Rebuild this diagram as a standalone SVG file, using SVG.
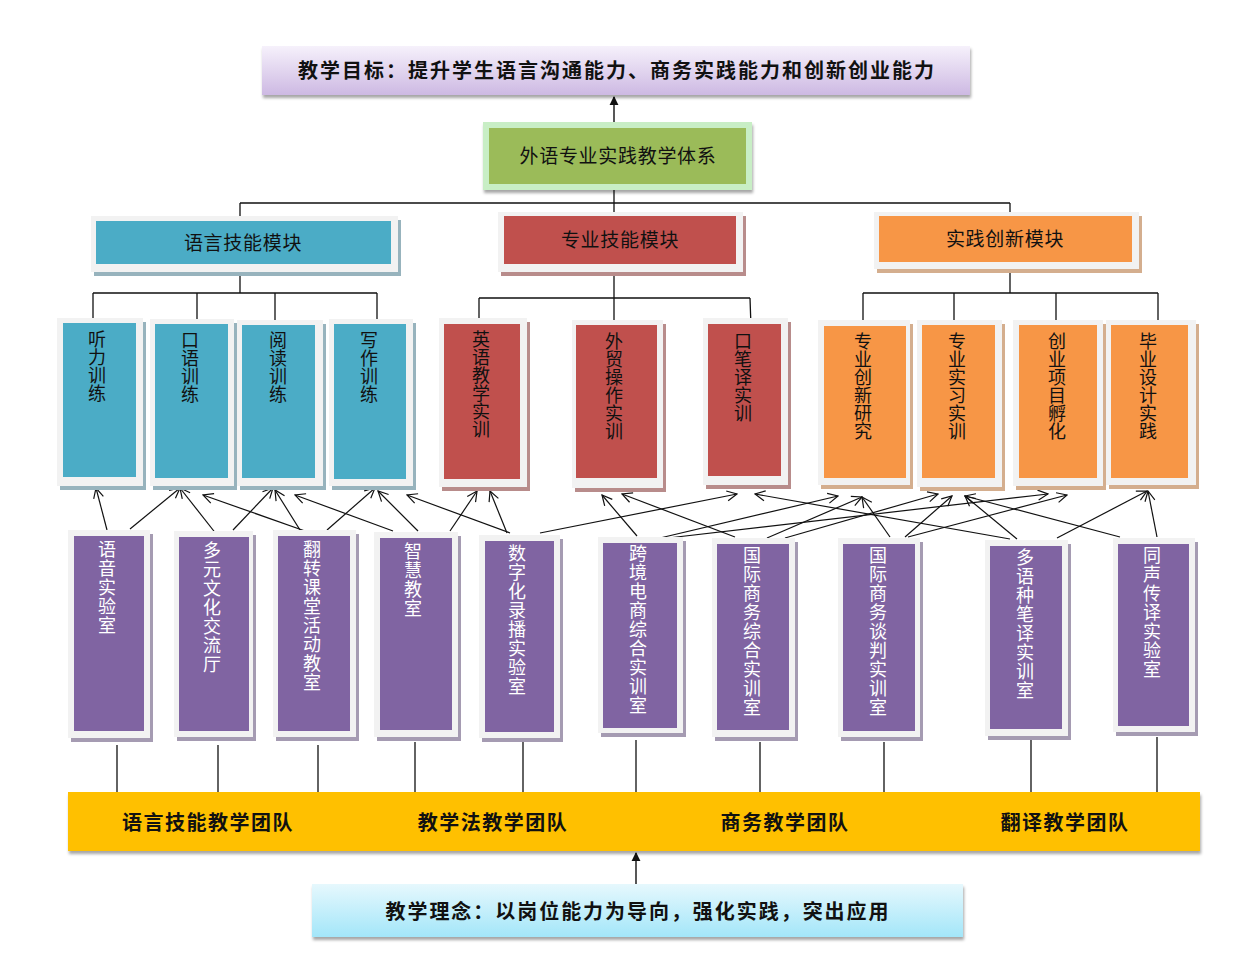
<svg xmlns="http://www.w3.org/2000/svg" width="1239" height="961" viewBox="0 0 1239 961">
<style>
.frame{fill:#F2F2F2}
.t{fill:#4BACC6}.r{fill:#C0504D}.o{fill:#F79646}.p{fill:#8064A2}
.st{fill:#97B3BD}.sr{fill:#B88C8B}.so{fill:#D4AE8E}.sp{fill:#A59BB2}
.ln{stroke:#111;stroke-width:1.3;fill:none}
.ar{stroke:#111;stroke-width:1.2;fill:none;marker-end:url(#open)}
.txt{font-family:"Noto Sans CJK SC","Noto Sans",sans-serif;fill:#111}
.mod{font-size:19px;letter-spacing:0.7px;text-anchor:middle}
.vt{font-size:18px;writing-mode:vertical-rl}
.vw{font-size:18px;writing-mode:vertical-rl;letter-spacing:1px;fill:#fff}
.bold{font-weight:bold;font-size:20px;text-anchor:middle}
</style>
<defs>
<marker id="open" viewBox="0 0 12 12" refX="11" refY="6" markerWidth="12" markerHeight="12" markerUnits="userSpaceOnUse" orient="auto">
<path d="M1,1 L11,6 L1,11" fill="none" stroke="#111" stroke-width="1.2"/>
</marker>
<marker id="solid" viewBox="0 0 10 10" refX="9" refY="5" markerWidth="9" markerHeight="11" markerUnits="userSpaceOnUse" orient="auto">
<path d="M0,0 L10,5 L0,10 Z" fill="#111"/>
</marker>
<linearGradient id="gTop" x1="0" y1="0" x2="0" y2="1">
<stop offset="0" stop-color="#F6F1FB"/><stop offset="1" stop-color="#CDB9E3"/>
</linearGradient>
<linearGradient id="gBot" x1="0" y1="0" x2="0" y2="1">
<stop offset="0" stop-color="#E6F8FD"/><stop offset="1" stop-color="#A3E6F9"/>
</linearGradient>
<filter id="sh" x="-5%" y="-20%" width="110%" height="150%">
<feDropShadow dx="1" dy="3" stdDeviation="1.5" flood-color="#000" flood-opacity="0.35"/>
</filter>
</defs>

<rect width="1239" height="961" fill="#fff"/>

<g id="connectors">
<!-- top tree -->
<path class="ln" d="M614,190 V203 M240,203 H1010 M240,203 V216 M614,203 V212 M1010,203 V212"/>
<path class="ln" d="M240,272 V293 M93,293 H377 M93,293 V320 M197,293 V322 M275,293 V320 M377,293 V321"/>
<path class="ln" d="M614,272 V298 M479,298 H750 M479,298 V322 M614,298 V325 M750,298 L751,327"/>
<path class="ln" d="M1010,269 V293 M863,293 H1158 M863,293 V322 M954,293 V322 M1056,293 V322 M1158,293 V322"/>
<!-- main arrows -->
<line x1="614" y1="122" x2="614" y2="97" stroke="#111" stroke-width="1.4" marker-end="url(#solid)"/>
<line x1="636" y1="884" x2="636" y2="853" stroke="#111" stroke-width="1.4" marker-end="url(#solid)"/>
<!-- labs to team bar -->
<path class="ln" stroke-width="1" d="M117,745 V792 M218,745 V792 M318,745 V792 M415,742 V792 M523,742 V792 M636,740 V792 M760,742 V792 M884,742 V792 M1031,740 V792 M1157,737 V792"/>
<!-- labs to skills -->
<line class="ar" x1="107" y1="530" x2="96" y2="488"/>
<line class="ar" x1="130" y1="529" x2="180" y2="488"/>
<line class="ar" x1="217" y1="535" x2="180" y2="488"/>
<line class="ar" x1="233" y1="530" x2="273" y2="488"/>
<line class="ar" x1="305" y1="531" x2="203" y2="495"/>
<line class="ar" x1="300" y1="530" x2="275" y2="490"/>
<line class="ar" x1="327" y1="530" x2="375" y2="488"/>
<line class="ar" x1="393" y1="531" x2="295" y2="495"/>
<line class="ar" x1="418" y1="531" x2="378" y2="491"/>
<line class="ar" x1="450" y1="531" x2="477" y2="491"/>
<line class="ar" x1="510" y1="533" x2="407" y2="495"/>
<line class="ar" x1="507" y1="533" x2="490" y2="491"/>
<line class="ar" x1="540" y1="533" x2="737" y2="494"/>
<line class="ar" x1="637" y1="536" x2="602" y2="495"/>
<line class="ar" x1="735" y1="537" x2="622" y2="494"/>
<line class="ar" x1="660" y1="538" x2="838" y2="496"/>
<line class="ar" x1="668" y1="538" x2="1048" y2="494"/>
<line class="ar" x1="767" y1="538" x2="862" y2="497"/>
<line class="ar" x1="785" y1="538" x2="938" y2="494"/>
<line class="ar" x1="890" y1="537" x2="862" y2="497"/>
<line class="ar" x1="905" y1="537" x2="952" y2="496"/>
<line class="ar" x1="908" y1="537" x2="1067" y2="495"/>
<line class="ar" x1="1017" y1="539" x2="965" y2="496"/>
<line class="ar" x1="1010" y1="539" x2="755" y2="494"/>
<line class="ar" x1="1057" y1="538" x2="1147" y2="491"/>
<line class="ar" x1="1120" y1="537" x2="965" y2="496"/>
<line class="ar" x1="1157" y1="537" x2="1148" y2="491"/>
</g>

<g id="goal">
<rect x="262" y="46" width="708" height="49" fill="url(#gTop)" filter="url(#sh)"/>
<text class="txt bold" x="616" y="78" textLength="636" lengthAdjust="spacing">教学目标：提升学生语言沟通能力、商务实践能力和创新创业能力</text>
</g>

<g id="system">
<rect x="483" y="122" width="269" height="68" fill="#C8EEC5" filter="url(#sh)"/>
<rect x="489" y="128" width="257" height="56" fill="#9BBB59"/>
<text class="txt mod" x="618" y="163" letter-spacing="1">外语专业实践教学体系</text>
</g>

<g id="mod-lang">
<rect x="94" y="220" width="307" height="56" class="st"/>
<rect x="91" y="216" width="307" height="56" class="frame"/>
<rect x="96" y="221" width="295" height="43" class="t"/>
<text class="txt mod" x="243" y="250">语言技能模块</text>
</g>
<g id="mod-prof">
<rect x="501" y="216" width="245" height="60" class="sr"/>
<rect x="498" y="212" width="245" height="60" class="frame"/>
<rect x="504" y="216" width="232" height="48" class="r"/>
<text class="txt mod" x="620" y="247">专业技能模块</text>
</g>
<g id="mod-prac">
<rect x="877" y="216" width="265" height="57" class="so"/>
<rect x="874" y="212" width="265" height="57" class="frame"/>
<rect x="879" y="216" width="253" height="46" class="o"/>
<text class="txt mod" x="1005" y="246">实践创新模块</text>
</g>

<!-- skill boxes -->
<g id="s-listen"><rect x="60" y="322" width="86" height="168" class="st"/><rect x="57" y="318" width="86" height="168" class="frame"/><rect x="63" y="323" width="73" height="154" class="t"/><text class="txt vt" x="97" y="330">听力训练</text></g>
<g id="s-speak"><rect x="153" y="323" width="84" height="167" class="st"/><rect x="150" y="319" width="84" height="167" class="frame"/><rect x="155" y="324" width="73" height="154" class="t"/><text class="txt vt" x="190" y="331">口语训练</text></g>
<g id="s-read"><rect x="240" y="324" width="86" height="166" class="st"/><rect x="237" y="320" width="86" height="166" class="frame"/><rect x="242" y="325" width="73" height="153" class="t"/><text class="txt vt" x="278" y="331">阅读训练</text></g>
<g id="s-write"><rect x="332" y="323" width="84" height="167" class="st"/><rect x="329" y="319" width="84" height="167" class="frame"/><rect x="334" y="324" width="72" height="155" class="t"/><text class="txt vt" x="369" y="331">写作训练</text></g>
<g id="s-eng"><rect x="442" y="322" width="88" height="169" class="sr"/><rect x="439" y="318" width="88" height="169" class="frame"/><rect x="444" y="324" width="76" height="155" class="r"/><text class="txt vt" x="481" y="330">英语教学实训</text></g>
<g id="s-trade"><rect x="575" y="324" width="91" height="168" class="sr"/><rect x="572" y="320" width="91" height="168" class="frame"/><rect x="576" y="325" width="81" height="153" class="r"/><text class="txt vt" x="614" y="332">外贸操作实训</text></g>
<g id="s-interp"><rect x="706" y="322" width="85" height="167" class="sr"/><rect x="703" y="318" width="85" height="167" class="frame"/><rect x="708" y="324" width="73" height="152" class="r"/><text class="txt vt" x="743" y="332">口笔译实训</text></g>
<g id="s-research"><rect x="821" y="324" width="92" height="165" class="so"/><rect x="818" y="320" width="92" height="165" class="frame"/><rect x="824" y="326" width="82" height="152" class="o"/><text class="txt vt" x="863" y="332">专业创新研究</text></g>
<g id="s-intern"><rect x="920" y="324" width="85" height="167" class="so"/><rect x="917" y="320" width="85" height="167" class="frame"/><rect x="922" y="325" width="73" height="153" class="o"/><text class="txt vt" x="957" y="332">专业实习实训</text></g>
<g id="s-venture"><rect x="1016" y="324" width="90" height="166" class="so"/><rect x="1013" y="320" width="90" height="166" class="frame"/><rect x="1019" y="325" width="78" height="153" class="o"/><text class="txt vt" x="1057" y="332">创业项目孵化</text></g>
<g id="s-thesis"><rect x="1109" y="324" width="90" height="165" class="so"/><rect x="1106" y="320" width="90" height="165" class="frame"/><rect x="1111" y="325" width="77" height="153" class="o"/><text class="txt vt" x="1148" y="332">毕业设计实践</text></g>

<!-- lab boxes -->
<g id="l-phon"><rect x="71" y="534" width="82" height="208" class="sp"/><rect x="68" y="530" width="82" height="208" class="frame"/><rect x="74" y="536" width="70" height="195" class="p"/><text class="txt vw" x="107" y="540">语音实验室</text></g>
<g id="l-multi"><rect x="177" y="535" width="79" height="206" class="sp"/><rect x="174" y="531" width="79" height="206" class="frame"/><rect x="179" y="537" width="70" height="194" class="p"/><text class="txt vw" x="212" y="541">多元文化交流厅</text></g>
<g id="l-flip"><rect x="276" y="534" width="83" height="207" class="sp"/><rect x="273" y="530" width="83" height="207" class="frame"/><rect x="278" y="536" width="72" height="195" class="p"/><text class="txt vw" x="312" y="540">翻转课堂活动教室</text></g>
<g id="l-smart"><rect x="377" y="536" width="84" height="205" class="sp"/><rect x="374" y="532" width="84" height="205" class="frame"/><rect x="380" y="538" width="72" height="192" class="p"/><text class="txt vw" x="413" y="542">智慧教室</text></g>
<g id="l-digital"><rect x="482" y="539" width="81" height="203" class="sp"/><rect x="479" y="535" width="81" height="203" class="frame"/><rect x="485" y="541" width="69" height="191" class="p"/><text class="txt vw" x="517" y="544">数字化录播实验室</text></g>
<g id="l-ecom"><rect x="601" y="541" width="85" height="196" class="sp"/><rect x="598" y="537" width="85" height="196" class="frame"/><rect x="603" y="543" width="74" height="185" class="p"/><text class="txt vw" x="638" y="544">跨境电商综合实训室</text></g>
<g id="l-biz"><rect x="715" y="542" width="83" height="199" class="sp"/><rect x="712" y="538" width="83" height="199" class="frame"/><rect x="717" y="544" width="72" height="186" class="p"/><text class="txt vw" x="752" y="546">国际商务综合实训室</text></g>
<g id="l-nego"><rect x="841" y="542" width="82" height="199" class="sp"/><rect x="838" y="538" width="82" height="199" class="frame"/><rect x="843" y="544" width="72" height="187" class="p"/><text class="txt vw" x="878" y="546">国际商务谈判实训室</text></g>
<g id="l-trans"><rect x="988" y="544" width="83" height="196" class="sp"/><rect x="985" y="540" width="83" height="196" class="frame"/><rect x="990" y="546" width="72" height="183" class="p"/><text class="txt vw" x="1025" y="548">多语种笔译实训室</text></g>
<g id="l-simul"><rect x="1116" y="542" width="82" height="194" class="sp"/><rect x="1113" y="538" width="82" height="194" class="frame"/><rect x="1118" y="544" width="71" height="182" class="p"/><text class="txt vw" x="1152" y="546">同声传译实验室</text></g>

<g id="teams">
<rect x="68" y="792" width="1132" height="59" fill="#FFC000" filter="url(#sh)"/>
<text class="txt bold" x="208" y="830" letter-spacing="1.5">语言技能教学团队</text>
<text class="txt bold" x="493" y="830" letter-spacing="1.5">教学法教学团队</text>
<text class="txt bold" x="785" y="830" letter-spacing="1.5">商务教学团队</text>
<text class="txt bold" x="1065" y="830" letter-spacing="1.5">翻译教学团队</text>
</g>

<g id="philosophy">
<rect x="312" y="884" width="651" height="53" fill="url(#gBot)" filter="url(#sh)"/>
<text class="txt bold" x="637" y="919" textLength="503" lengthAdjust="spacing">教学理念：以岗位能力为导向，强化实践，突出应用</text>
</g>
</svg>
